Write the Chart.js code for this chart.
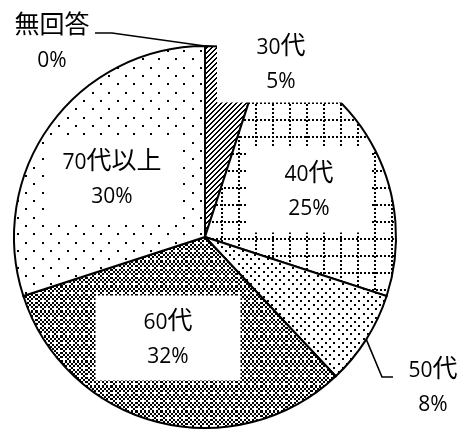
<!DOCTYPE html>
<html>
<head>
<meta charset="utf-8">
<script src="https://cdn.jsdelivr.net/npm/chart.js@4.4.1/dist/chart.umd.min.js"></script>
<style>
  html, body { margin: 0; padding: 0; background: #fff; overflow: hidden; }
</style>
</head>
<body>
<canvas id="agePie" width="461" height="430"></canvas>
<script>
(function () {

// ---------------------------------------------------------------- data

var categories = ['無回答', '30代', '40代', '50代', '60代', '70代以上'];
var shares = [0, 5, 25, 8, 32, 30];   // percent of respondents

// ---------------------------------------------------------------- label layout
// box centre / size in px, offsets measured from the pie centre.
// outside labels get a leader line: elbow + end point, also from centre.
var labelLayout = [
    { text: [-153, -195], elbow: [-93, -204], end: [-110, -204] },
    { box: [76, -174, 128, 79] },
    { box: [104, -47, 125, 85] },
    { text: [228, 149], elbow: [177, 140], end: [188, 140] },
    { box: [-37, 101, 145, 85] },
    { box: [-93, -59, 130, 82] }
];

var LATIN_FONT = '21px "Open Sans", "Liberation Sans", sans-serif';
var CJK_FONT = '25px "Noto Sans CJK JP", sans-serif';
var TEXT_COLOR = '#000';
var LINE_GAP = 34;

// ---------------------------------------------------------------- fill patterns

var canvas = document.getElementById('agePie');
var ctx = canvas.getContext('2d');

function tile(size, paint) {
    var c = document.createElement('canvas');
    c.width = size; c.height = size;
    var g = c.getContext('2d');
    g.fillStyle = '#fff';
    g.fillRect(0, 0, size, size);
    g.fillStyle = '#000';
    paint(g, size);
    return ctx.createPattern(c, 'repeat');
}

// 8x8 bitmaps ('1' = black) stretched to ~2.08px per bit, tiled 3x3 into 50px
function bitPattern(rows) {
    return tile(50, function (g) {
        var s = 50 / 24;
        for (var j = 0; j < 24; j++) {
            for (var i = 0; i < 24; i++) {
                if (rows[j % 8].charAt(i % 8) === '1') {
                    var x0 = Math.round(i * s), y0 = Math.round(j * s);
                    g.fillRect(x0, y0, Math.round((i + 1) * s) - x0, Math.round((j + 1) * s) - y0);
                }
            }
        }
    });
}

// thin upward diagonals
var hatch = tile(5, function (g) {
    for (var y = 0; y < 5; y++) {
        for (var x = 0; x < 5; x++) {
            var k = (x + y) % 5;
            if (k === 3 || k === 4) g.fillRect(x, y, 1, 1);
        }
    }
});

// dotted square grid, 17px cells
var dottedGrid = tile(68, function (g) {
    for (var p = 0; p < 68; p += 17) {
        for (var q = 0; q < 68; q += 4) {
            g.fillRect(q, p, 2, 2);
            g.fillRect(p, q, 2, 2);
        }
    }
});

var fills = [
    '#ffffff',
    hatch,
    dottedGrid,
    bitPattern(['10001000', '00000000', '00100010', '00000000',
                '10001000', '00000000', '00100010', '00000000']),
    bitPattern(['00100010', '01010101', '10101010', '01010101',
                '10001000', '01010101', '10101010', '01010101']),
    bitPattern(['10000000', '00000000', '00000000', '00000000',
                '00001000', '00000000', '00000000', '00000000'])
];

// ---------------------------------------------------------------- labels

// digits and kana/kanji use different faces, so draw them run by run
function drawMixed(g, str, cx, baseline) {
    var runs = str.match(/[\u3000-\u9fff]+|[^\u3000-\u9fff]+/g) || [];
    var parts = [], total = 0;
    runs.forEach(function (r) {
        var f = /[\u3000-\u9fff]/.test(r) ? CJK_FONT : LATIN_FONT;
        g.font = f;
        var w = g.measureText(r).width;
        parts.push({ t: r, f: f, w: w });
        total += w;
    });
    var x = cx - total / 2;
    g.textAlign = 'left';
    g.textBaseline = 'alphabetic';
    parts.forEach(function (p) {
        g.font = p.f;
        g.fillText(p.t, x, baseline);
        x += p.w;
    });
}

function drawTwoLines(g, i, cx, cy) {
    g.fillStyle = TEXT_COLOR;
    drawMixed(g, categories[i], cx, cy - LINE_GAP / 2 + 8);
    drawMixed(g, shares[i] + '%', cx, cy + LINE_GAP / 2 + 8);
}

var sliceLabels = {
    id: 'sliceLabels',
    afterDatasetsDraw: function (chart) {
        var g = chart.ctx;
        var arcs = chart.getDatasetMeta(0).data;
        g.save();
        arcs.forEach(function (arc, i) {
            var lay = labelLayout[i];
            var ox = arc.x, oy = arc.y;
            if (lay.box) {
                var b = lay.box;
                g.fillStyle = '#fff';
                g.fillRect(ox + b[0] - b[2] / 2, oy + b[1] - b[3] / 2, b[2], b[3]);
                drawTwoLines(g, i, ox + b[0], oy + b[1]);
            } else {
                var mid = (arc.startAngle + arc.endAngle) / 2;
                var r = arc.outerRadius;
                g.beginPath();
                g.moveTo(ox + Math.cos(mid) * r, oy + Math.sin(mid) * r);
                g.lineTo(ox + lay.elbow[0], oy + lay.elbow[1]);
                g.lineTo(ox + lay.end[0], oy + lay.end[1]);
                g.lineWidth = 1.6;
                g.strokeStyle = '#000';
                g.stroke();
                drawTwoLines(g, i, ox + lay.text[0], oy + lay.text[1]);
            }
        });
        g.restore();
    }
};

// ---------------------------------------------------------------- chart

try {
    new Chart(ctx, {
        type: 'pie',
        data: {
            labels: categories,
            datasets: [{
                data: shares,
                backgroundColor: fills,
                borderColor: '#000',
                borderWidth: 2,
                borderJoinStyle: 'miter'
            }]
        },
        options: {
            responsive: false,
            animation: false,
            layout: { padding: { left: 13, top: 45, right: 64, bottom: 1 } },
            plugins: {
                legend: { display: false },
                tooltip: { enabled: false }
            }
        },
        plugins: [sliceLabels]
    });
} catch (e) {
    console.log('Error in agePie: ' + e);
}

})();
</script>
</body>
</html>
